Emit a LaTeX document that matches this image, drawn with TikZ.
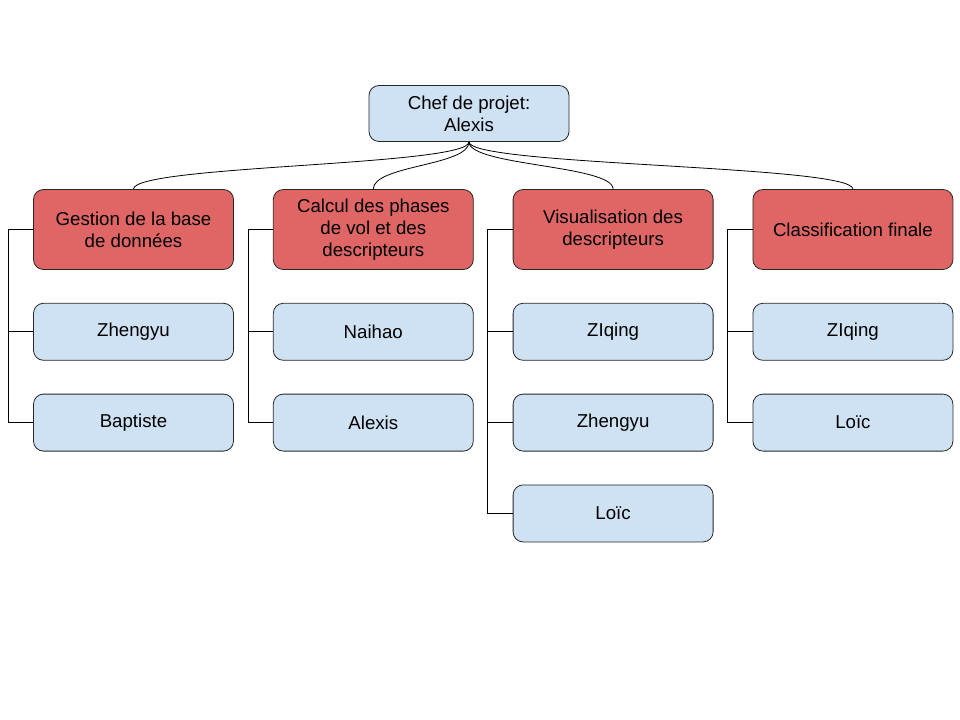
\documentclass[tikz,border=0pt]{standalone}
\usepackage{fontspec}
\setmainfont{Liberation Sans}
\usetikzlibrary{positioning}
\definecolor{leadred}{HTML}{E06666}
\definecolor{memberblue}{HTML}{CFE2F3}

\begin{document}
\begin{tikzpicture}[x=0.75pt,y=-0.75pt,
  box/.style={draw=black!85, line width=0.6pt, rounded corners=7.5pt, minimum width=150pt,
    align=center, inner sep=2pt, font=\fontsize{14}{16.5}\selectfont},
  lead/.style={box, fill=leadred, minimum height=60pt},
  member/.style={box, fill=memberblue, minimum height=42.75pt, below=24.75pt of #1},
  link/.style={draw=black, line width=0.6pt}]
\useasboundingbox (0,0) rectangle (960,720);

\node[box, fill=memberblue, minimum height=42pt] (chef) at (469,113.5) {Chef de projet:\\Alexis};

% team leads
\node[lead] (gestion) at (133.5,229.5) {Gestion de la base\\de donn\'ees};
\node[lead, right=29.25pt of gestion] (calcul) {Calcul des phases\\de vol et des\\descripteurs};
\node[lead, right=29.25pt of calcul] (visu) {Visualisation des\\descripteurs};
\node[lead, right=29.25pt of visu] (classif) {Classification finale};

% members
\node[member=gestion] (g1) {Zhengyu};
\node[member=g1] (g2) {Baptiste};
\node[member=calcul] (c1) {Naihao};
\node[member=c1] (c2) {Alexis};
\node[member=visu] (v1) {ZIqing};
\node[member=v1] (v2) {Zhengyu};
\node[member=v2] (v3) {Lo\"ic};
\node[member=classif] (f1) {ZIqing};
\node[member=f1] (f2) {Lo\"ic};

% curves from the project lead
\foreach \t in {gestion,calcul,visu,classif}
  \draw[link] (chef.south) .. controls +(0,24) and +(0,-24) .. (\t.north);

% brackets
\draw[link] (gestion.west) -- ++(-25,0) |- (g1.west);
\draw[link] (gestion.west) -- ++(-25,0) |- (g2.west);
\draw[link] (calcul.west) -- ++(-25,0) |- (c1.west);
\draw[link] (calcul.west) -- ++(-25,0) |- (c2.west);
\draw[link] (visu.west) -- ++(-25,0) |- (v1.west);
\draw[link] (visu.west) -- ++(-25,0) |- (v2.west);
\draw[link] (visu.west) -- ++(-25,0) |- (v3.west);
\draw[link] (classif.west) -- ++(-25,0) |- (f1.west);
\draw[link] (classif.west) -- ++(-25,0) |- (f2.west);
\end{tikzpicture}
\end{document}
